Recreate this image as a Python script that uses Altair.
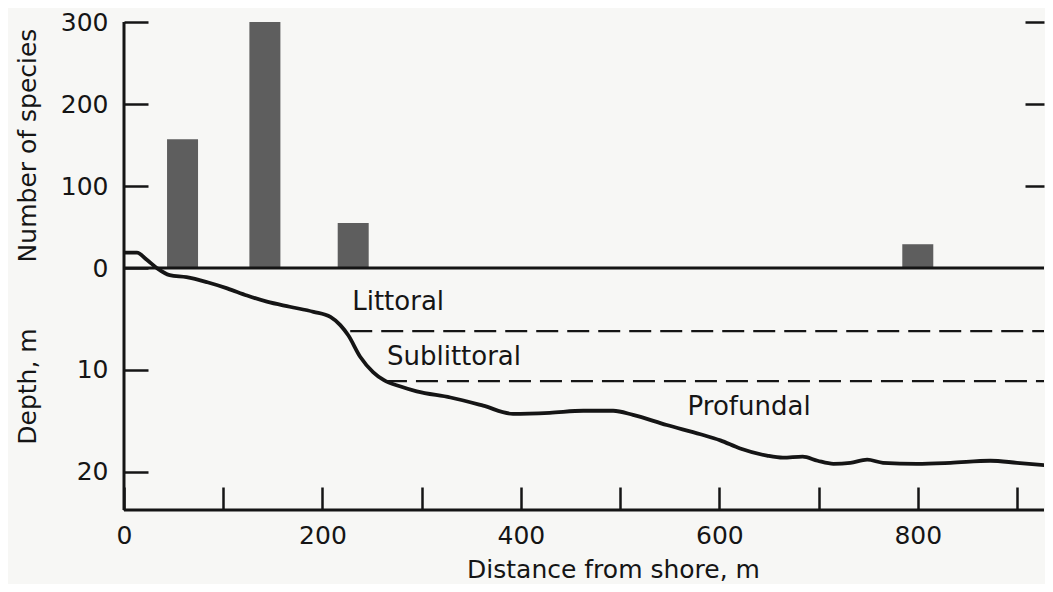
import altair as alt
import pandas as pd

# ---------------- data ----------------
X_MAX = 927.2                      # visible end of the distance axis (m)
SPECIES_DOMAIN = [-295.1, 300]     # species scale (0 sits on the shoreline level)
DEPTH_DOMAIN = [-24.12, 23.73]     # depth scale (reversed)

bar_dist = [59, 142, 231, 800]
bar_species = [157, 300, 55, 29]

profile_dist = [0, 13, 23, 33, 46, 63, 84, 104, 124, 144, 167, 191, 208, 218,
                226, 238, 251, 262, 278, 295, 329, 362, 392, 429, 463, 493,
                513, 547, 581, 601, 621, 648, 664, 684, 699, 715, 732, 749,
                765, 799, 833, 873, 900, 935]
profile_depth = [-1.5, -1.5, -0.8, 0.0, 0.7, 0.9, 1.4, 2.0, 2.7, 3.3, 3.8, 4.3, 4.8, 5.6,
                 6.6, 8.7, 10.2, 11.0, 11.6, 12.1, 12.7, 13.5, 14.3, 14.2, 14.0, 14.0,
                 14.4, 15.4, 16.3, 16.9, 17.7, 18.4, 18.6, 18.5, 18.9, 19.2, 19.1, 18.8,
                 19.1, 19.2, 19.1, 18.9, 19.1, 19.4]

boundary_start = [228, 263]
boundary_depth = [6.2, 11.1]

zone_names = ["Littoral", "Sublittoral", "Profundal"]
zone_label_dist = [230, 265, 568]
zone_label_depth = [3.35, 8.75, 13.6]

x_ticks = [0, 100, 200, 300, 400, 500, 600, 700, 800, 900]
species_ticks = [0, 100, 200, 300]
depth_ticks = [10, 20]
right_ticks = [100, 200, 300]

FONT = "DejaVu Sans"
INK = "#151515"

# ---------------- tables ----------------
bars_df = pd.DataFrame({"dist": bar_dist, "species": bar_species})
profile_df = pd.DataFrame({"dist": profile_dist, "depth": profile_depth})
bound_df = pd.DataFrame({"dist": boundary_start, "dist2": [X_MAX] * len(boundary_start),
                         "depth": boundary_depth})
zero_df = pd.DataFrame({"dist": [0], "dist2": [X_MAX], "depth": [0]})
label_df = pd.DataFrame({"dist": zone_label_dist, "depth": zone_label_depth, "name": zone_names})
right_df = pd.DataFrame({"species": right_ticks})
frame_df = pd.DataFrame({"k": [0]})

PLOT_W = 920
PLOT_H = 488

# ---------------- scales / axes ----------------
x_scale = alt.Scale(domain=[0, X_MAX], nice=False, zero=False, padding=0)
x_axis = alt.Axis(values=x_ticks, orient="bottom", offset=-23, tickSize=23, domain=False,
                  labelPadding=13, labelFlush=False,
                  labelExpr="datum.value % 200 === 0 ? datum.label : ''",
                  title="Distance from shore, m", titleX=489, titleY=90,
                  titleAlign="center", titleBaseline="alphabetic", grid=False)

sp_scale = alt.Scale(domain=SPECIES_DOMAIN, nice=False, zero=False)
sp_axis = alt.Axis(values=species_ticks, orient="left", offset=-24, tickSize=24, domain=False,
                   labelPadding=16, labelFlush=False, title="Number of species",
                   titleX=-113, titleY=123, titleAngle=-90, titleAlign="center",
                   titleBaseline="alphabetic", grid=False)

dp_scale = alt.Scale(domain=DEPTH_DOMAIN, reverse=True, nice=False, zero=False)
dp_axis = alt.Axis(values=depth_ticks, orient="left", offset=-24, tickSize=24, domain=False,
                   labelPadding=16, labelFlush=False, title="Depth, m",
                   titleX=-113, titleY=364, titleAngle=-90, titleAlign="center",
                   titleBaseline="alphabetic", grid=False)

# ---------------- species panel ----------------
bars = alt.Chart(bars_df).mark_bar(size=31, color="#5e5e5e").encode(
    x=alt.X("dist:Q", scale=x_scale, axis=x_axis),
    y=alt.Y("species:Q", scale=sp_scale, axis=sp_axis),
)
species_group = alt.layer(bars)

# ---------------- depth panel ----------------
zero_line = alt.Chart(zero_df).mark_rule(color=INK, strokeWidth=3).encode(
    x=alt.X("dist:Q", scale=x_scale, axis=x_axis),
    x2="dist2:Q",
    y=alt.Y("depth:Q", scale=dp_scale, axis=dp_axis),
)
bounds = alt.Chart(bound_df).mark_rule(color=INK, strokeWidth=2.2, strokeDash=[22, 9]).encode(
    x=alt.X("dist:Q", scale=x_scale, axis=x_axis),
    x2="dist2:Q",
    y=alt.Y("depth:Q", scale=dp_scale, axis=dp_axis),
)
profile = alt.Chart(profile_df).mark_line(color=INK, strokeWidth=3.8, interpolate="monotone",
                                          clip=True).encode(
    x=alt.X("dist:Q", scale=x_scale, axis=x_axis),
    y=alt.Y("depth:Q", scale=dp_scale, axis=dp_axis),
)
labels = alt.Chart(label_df).mark_text(align="left", baseline="middle", font=FONT,
                                       fontSize=26, color=INK).encode(
    x=alt.X("dist:Q", scale=x_scale, axis=x_axis),
    y=alt.Y("depth:Q", scale=dp_scale, axis=dp_axis),
    text="name:N",
)
left_frame = alt.Chart(frame_df).mark_rule(color=INK, strokeWidth=3).encode(
    x=alt.value(0), y=alt.value(0), y2=alt.value(PLOT_H))
bottom_frame = alt.Chart(frame_df).mark_rule(color=INK, strokeWidth=3).encode(
    y=alt.value(PLOT_H), x=alt.value(0), x2=alt.value(PLOT_W))

depth_group = alt.layer(zero_line, bounds, profile, labels, left_frame, bottom_frame)

# ---------------- right-hand ticks ----------------
right_group = alt.Chart(right_df).mark_point(opacity=0).encode(
    x=alt.value(0),
    y=alt.Y("species:Q", scale=sp_scale,
            axis=alt.Axis(orient="right", values=right_ticks, offset=-19, tickSize=19,
                          labels=False, domain=False, title="", grid=False)),
)

chart = alt.layer(species_group, depth_group, right_group).resolve_scale(
    y="independent"
).properties(
    width=PLOT_W, height=PLOT_H,
    autosize=alt.AutoSizeParams(type="none"),
    padding={"left": 116, "top": 14, "right": 1, "bottom": 74},
    background="#f7f7f5",
).configure_axis(
    labelFont=FONT, titleFont=FONT, labelFontSize=25, titleFontSize=25,
    labelColor=INK, titleColor=INK, titleFontWeight="normal",
    tickColor=INK, tickWidth=2.5, grid=False,
).configure_view(strokeWidth=0)

chart.save("out.html", embed_options={"renderer": "svg", "actions": False})
